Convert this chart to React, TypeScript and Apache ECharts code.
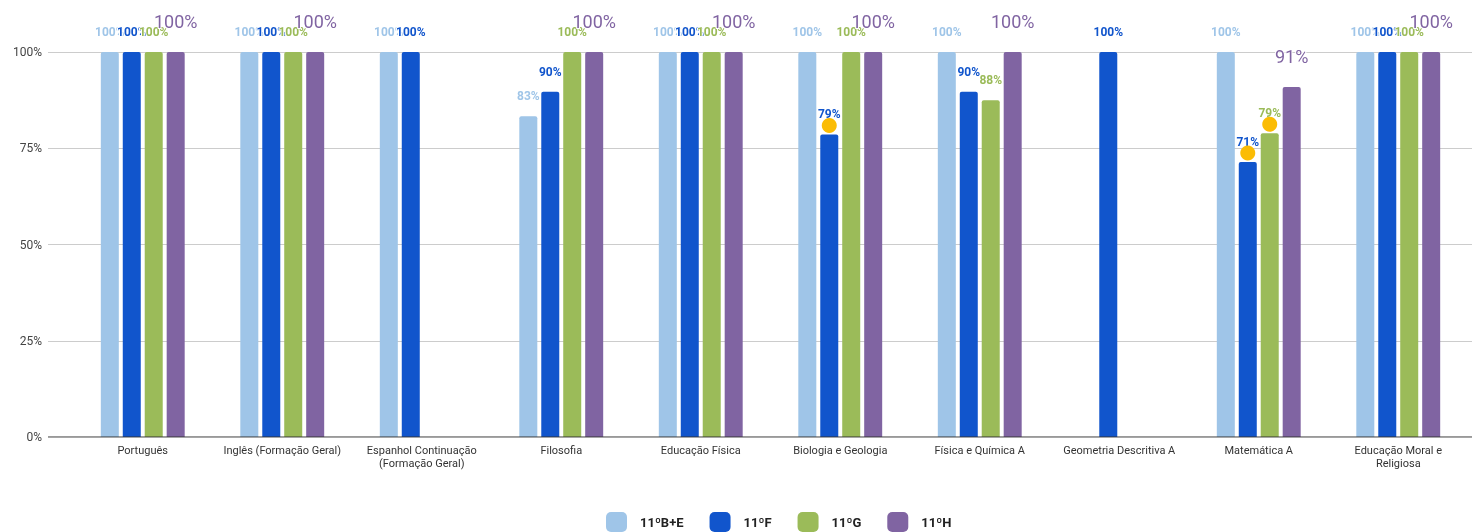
import React, { useEffect, useRef } from "react";
import * as echarts from "echarts";

const categories = [
  "Português",
  "Inglês (Formação Geral)",
  "Espanhol Continuação\n(Formação Geral)",
  "Filosofia",
  "Educação Física",
  "Biologia e Geologia",
  "Física e Química A",
  "Geometria Descritiva A",
  "Matemática A",
  "Educação Moral e\nReligiosa",
];

const seriesNames = ["11ºB+E", "11ºF", "11ºG", "11ºH"];
const seriesColors = ["#9fc5e8", "#1155cc", "#9bbb59", "#8064a2"];

const valsBE = [100, 100, 100, 83.3, 100, 100, 100, null, 100, 100];
const valsF = [100, 100, 100, 89.7, 100, 78.6, 89.7, 100, 71.4, 100];
const valsG = [100, 100, null, 100, 100, 100, 87.5, null, 78.9, 100];
const valsH = [100, 100, null, 100, 100, 100, 100, null, 90.9, 100];

const yTicks = [0, 25, 50, 75, 100];

// highlighted points: [series index, category index]
const highlights = [
  [1, 5],
  [1, 8],
  [2, 8],
];

export default function App() {
  const ref = useRef<HTMLDivElement>(null);
  useEffect(() => {
    if (!ref.current) return;
    const chart = echarts.init(ref.current, null, { renderer: "svg" });
    const allVals = [valsBE, valsF, valsG, valsH];
    const fmt = (p: any) =>
      p.value == null || p.value === "-" ? "" : Math.round(p.value) + "%";
    const series = allVals.map((vals, si) => {
      const isH = si === 3;
      const marks = highlights
        .filter((h) => h[0] === si)
        .map((h) => ({ coord: [h[1], vals[h[1]]] }));
      return {
        name: seriesNames[si],
        type: "bar",
        xAxisIndex: 1,
        yAxisIndex: 1,
        data: vals.map((v) => (v == null ? "-" : v)),
        barWidth: 18,
        barGap: "22%",
        itemStyle: { color: seriesColors[si], borderRadius: [2, 2, 0, 0] },
        label: {
          show: true,
          position: "top",
          distance: isH ? 22 : 14,
          formatter: fmt,
          color: seriesColors[si],
          fontFamily: "Roboto",
          fontSize: isH ? 18 : 12,
          fontWeight: isH ? "normal" : "bold",
          textBorderColor: "#ffffff",
          textBorderWidth: 2,
        },
        markPoint: marks.length
          ? {
              symbol: "circle",
              symbolSize: 15,
              symbolOffset: [0, -9],
              itemStyle: { color: "#fbbc04" },
              label: { show: false },
              data: marks,
            }
          : undefined,
      };
    });
    chart.setOption({
      animation: false,
      textStyle: { fontFamily: "Roboto" },
      grid: [
        { left: 48, right: 2, top: 52, bottom: 95 },
        { left: 73, right: 6, top: 52, bottom: 95 },
      ],
      legend: {
        top: 507,
        left: 601,
        itemWidth: 21,
        itemHeight: 20,
        itemGap: 26,
        icon: "roundRect",
        data: seriesNames,
        textStyle: {
          color: "#222",
          fontSize: 13,
          fontWeight: "bold",
          fontFamily: "Roboto",
          padding: [0, 0, 0, 8],
        },
      },
      xAxis: [
        {
          gridIndex: 0,
          type: "value",
          show: false,
          min: 0,
          max: 1,
        },
        {
          gridIndex: 1,
          type: "category",
          data: categories,
          axisLine: { show: false },
          axisTick: { show: false },
          axisLabel: {
            color: "#333",
            fontSize: 11,
            fontFamily: "Roboto",
            margin: 7,
            interval: 0,
            lineHeight: 13,
          },
        },
      ],
      yAxis: [
        {
          gridIndex: 0,
          type: "value",
          min: 0,
          max: 100,
          interval: 25,
          axisLine: { show: false },
          axisTick: { show: false },
          axisLabel: {
            formatter: (v: number) => (yTicks.includes(v) ? v + "%" : ""),
            color: "#444",
            fontSize: 12,
            margin: 6,
            fontFamily: "Roboto",
          },
          splitLine: {
            lineStyle: { color: "#cccccc", width: 1 },
          },
        },
        {
          gridIndex: 1,
          type: "value",
          min: 0,
          max: 100,
          interval: 25,
          show: false,
          splitLine: { show: false },
        },
      ],
      series: [
        ...series,
        {
          type: "line",
          xAxisIndex: 0,
          yAxisIndex: 0,
          data: [
            [0, 0],
            [1, 0],
          ],
          symbol: "none",
          silent: true,
          lineStyle: { color: "#333333", width: 1 },
          z: 5,
          legendHoverLink: false,
        },
      ],
    });
    return () => chart.dispose();
  }, []);
  return (
    <div
      ref={ref}
      style={{ position: "fixed", left: 0, top: 0, width: 1474, height: 532 }}
    />
  );
}
